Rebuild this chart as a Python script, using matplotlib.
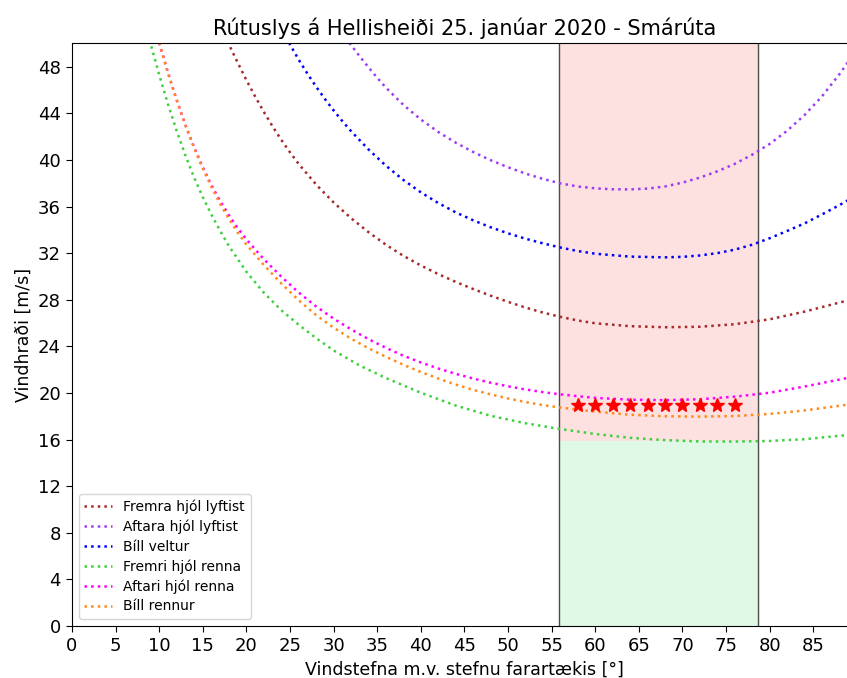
#! /usr/bin/env python3

import matplotlib
matplotlib.use("Agg")
import matplotlib.pyplot as plt

# wind direction relative to vehicle heading [deg] and the critical wind speed [m/s]
fremra_lyft_x = [17.5, 18, 19, 20, 21, 22, 23, 24, 25, 26, 28, 30, 32, 34, 36, 38, 40, 42, 44, 46, 48,
                 50, 52, 54, 56, 58, 60, 64, 68, 72, 76, 80, 84, 89]
fremra_lyft_v = [50.7, 49.9, 48.35, 46.85, 45.45, 44.12, 42.88, 41.72, 40.65, 39.65, 37.88, 36.35, 35.0, 33.8,
                 32.72, 31.77, 30.94, 30.2, 29.53, 28.92, 28.35, 27.82, 27.33, 26.9, 26.53, 26.22, 25.98,
                 25.73, 25.64, 25.68, 25.9, 26.32, 26.98, 27.95]

aftara_lyft_x = [31.8, 32, 33, 34, 35, 36, 38, 40, 42, 44, 46, 48, 50, 52, 54, 56, 58, 60, 62, 64, 66, 68,
                 70, 72, 74, 76, 78, 80, 82, 84, 86, 88, 89]
aftara_lyft_v = [50.05, 49.85, 48.88, 47.95, 47.05, 46.2, 44.72, 43.47, 42.4, 41.48, 40.68, 39.98, 39.37,
                 38.83, 38.37, 37.99, 37.72, 37.56, 37.48, 37.47, 37.54, 37.72, 38.05, 38.48, 39.02, 39.66,
                 40.45, 41.37, 42.5, 43.85, 45.45, 47.35, 48.4]

veltur_x = [24.9, 25, 26, 27, 28, 29, 30, 31, 32, 34, 36, 38, 40, 42, 44, 46, 48, 50, 52, 54, 56, 58, 60,
            64, 68, 70, 72, 74, 76, 78, 80, 82, 84, 86, 88, 89]
veltur_v = [50.05, 49.9, 48.6, 47.4, 46.28, 45.23, 44.25, 43.33, 42.47, 40.9, 39.5, 38.28, 37.22, 36.3,
            35.5, 34.82, 34.22, 33.7, 33.24, 32.84, 32.48, 32.18, 31.95, 31.7, 31.64, 31.68, 31.8, 32.0,
            32.3, 32.72, 33.28, 33.9, 34.55, 35.32, 36.12, 36.55]

fremri_renna_x = [8.9, 9, 10, 11, 12, 13, 14, 15, 16, 17, 18, 20, 22, 24, 26, 28, 30, 33, 36, 40, 44, 48, 52,
                  56, 60, 64, 68, 72, 76, 80, 84, 89]
fremri_renna_v = [50.3, 50.0, 47.3, 44.8, 42.5, 40.4, 38.5, 36.8, 35.3, 33.9, 32.6, 30.4, 28.6, 27.1, 25.85,
                  24.7, 23.65, 22.35, 21.28, 20.02, 18.92, 18.04, 17.4, 16.9, 16.48, 16.15, 15.95, 15.84,
                  15.83, 15.88, 16.03, 16.4]

aftari_renna_x = [10, 11, 12, 13, 14, 15, 16, 17, 18, 19, 20, 22, 24, 26, 28, 30, 32, 34, 36, 38, 40, 42, 44,
                  46, 48, 50, 52, 54, 56, 58, 60, 64, 68, 72, 76, 80, 84, 89]
aftari_renna_v = [50.05, 47.5, 45.15, 43.0, 41.1, 39.36, 37.82, 36.45, 35.25, 34.15, 33.18, 31.48, 29.98,
                  28.62, 27.42, 26.38, 25.46, 24.62, 23.87, 23.2, 22.62, 22.1, 21.64, 21.24, 20.88, 20.57,
                  20.3, 20.07, 19.88, 19.72, 19.58, 19.42, 19.38, 19.46, 19.68, 20.02, 20.55, 21.3]

rennur_x = [10, 11, 12, 13, 14, 15, 16, 17, 18, 19, 20, 22, 24, 26, 28, 30, 32, 34, 36, 38, 40, 42, 44, 46,
            48, 50, 52, 54, 56, 60, 64, 68, 72, 76, 80, 84, 89]
rennur_v = [50.05, 47.5, 45.15, 43.0, 41.04, 39.26, 37.66, 36.22, 34.92, 33.76, 32.74, 30.98, 29.4, 27.95,
            26.68, 25.6, 24.66, 23.84, 23.1, 22.42, 21.8, 21.24, 20.72, 20.27, 19.88, 19.53, 19.22, 18.96,
            18.75, 18.4, 18.13, 18.0, 17.97, 18.02, 18.2, 18.5, 19.0]

# observed conditions during the accident
slys_x = [58, 60, 62, 64, 66, 68, 70, 72, 74, 76]
slys_v = [19, 19, 19, 19, 19, 19, 19, 19, 19, 19]

# wind direction sector and the speed where the front wheels start to slide
sektor = (55.9, 78.7)
skil_v = 15.85

curves = (
    (fremra_lyft_x, fremra_lyft_v, "brown", "Fremra hjól lyftist"),
    (aftara_lyft_x, aftara_lyft_v, "#9d3cf5", "Aftara hjól lyftist"),
    (veltur_x, veltur_v, "blue", "Bíll veltur"),
    (fremri_renna_x, fremri_renna_v, "#3fcf3f", "Fremri hjól renna"),
    (aftari_renna_x, aftari_renna_v, "magenta", "Aftari hjól renna"),
    (rennur_x, rennur_v, "#ff8a1c", "Bíll rennur"),
)


def main():

    plt.rcParams["font.family"] = "DejaVu Sans"

    fig = plt.figure(figsize=(8.47, 6.78), dpi=100)
    ax = fig.add_axes([0.085, 0.0767, 0.9266, 0.8593])

    ax.fill_between(sektor, skil_v, 50, color="#fde0e0", zorder=0)
    ax.fill_between(sektor, 0, skil_v, color="#dff9e6", zorder=0)
    for xv in sektor:
        ax.axvline(xv, color="0.3", lw=1.0, zorder=1)

    for x, v, color, label in curves:
        ax.plot(x, v, ":", color=color, lw=1.8, label=label)

    ax.plot(slys_x, slys_v, "*", color="red", markersize=10, zorder=5)

    ax.set_xlim(0, 90)
    ax.set_ylim(0, 50)
    ax.set_xticks(range(0, 90, 5))
    ax.set_yticks(range(0, 50, 4))
    ax.tick_params(labelsize=13, length=4.5)

    ax.set_title("Rútuslys á Hellisheiði 25. janúar 2020 - Smárúta", fontsize=15)
    ax.set_xlabel("Vindstefna m.v. stefnu farartækis [°]", fontsize=12.5)
    ax.set_ylabel("Vindhraði [m/s]", fontsize=12.5)

    ax.legend(loc="lower left", fontsize=10, handlelength=2.0, labelspacing=0.4)

    fig.savefig("out.png", dpi=100)
    plt.close(fig)


if __name__ == "__main__":
    main()
